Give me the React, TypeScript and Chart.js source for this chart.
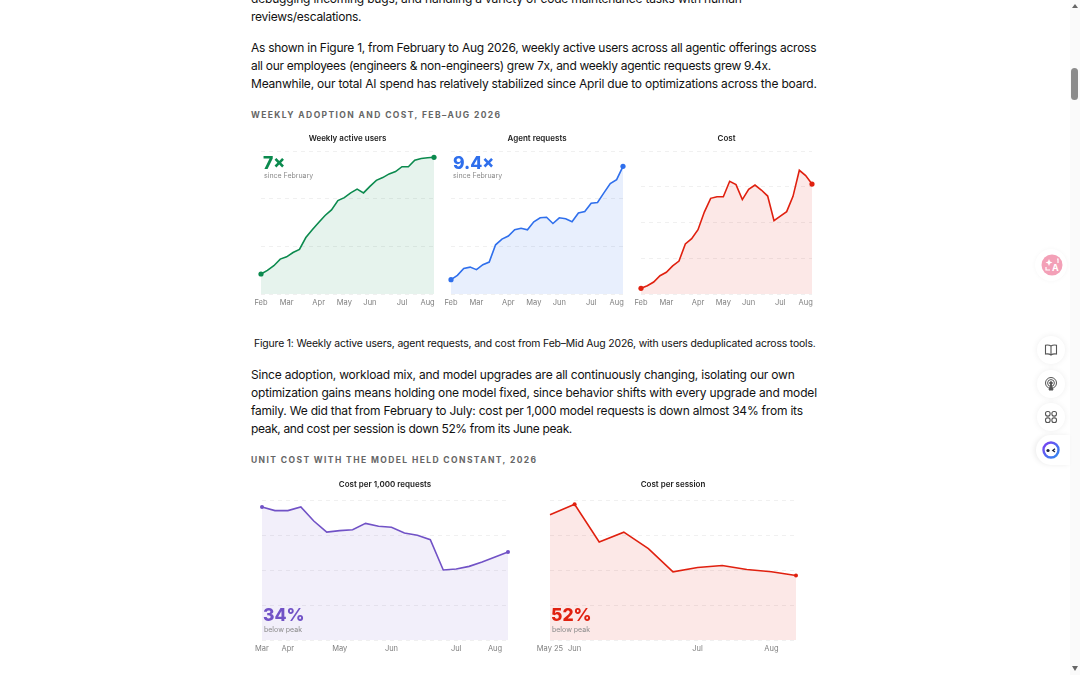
import React, { useEffect, useRef } from "react";
import { Chart, registerables } from "chart.js";

Chart.register(...registerables);

const weeklyLabels = ["Feb","","","","Mar","","","","","Apr","","","","May","","","","Jun","","","","","Jul","","","","Aug",""];
const requestCostLabels = ["Mar","","Apr","","","","May","","","","Jun","","","","","Jul","","","Aug",""];
const sessionCostLabels = ["May 25","Jun","","","","","Jul","","","Aug",""];

const weeklyActiveUsers = [14,16.5,19.8,24.4,26,29,31.2,39.5,44.9,50,54.9,58.8,65.3,67.4,70.7,73.3,70.7,75.3,79.5,81.4,84,85.6,89,89,93.5,94.7,95.3,95.6];
const agentRequests = [10,13,17.9,18.8,17,20.5,22.3,34.4,38.4,40.5,44.9,46,44.9,50.5,53.3,53.7,49.3,53.3,52.6,50.5,56.7,57.7,63.5,64,70.7,77.2,80,89.3];
const weeklyCost = [4,5.8,8.4,12.8,15.2,19.6,23,35,38.7,45,57.3,66.9,68,68,78.8,76.5,66,73.2,76.2,72.7,68.5,51.3,54.5,57.6,68.3,86.5,82.8,76.9];
const costPerThousand = [95,92.4,92.4,95,85,77.1,78.1,78.8,83.3,81.2,80.5,76.4,74.8,71.7,50,50.7,52.6,55.7,59.3,62.9];
const costPerSession = [89.5,96.9,70,77,65.3,48.7,51.8,53.2,50.4,48.7,46.1];

const topLines = [
  "debugging incoming bugs, and handling a variety of code maintenance tasks with human",
  "reviews/escalations.",
];
const topSpacing = [-0.175, -0.265];
const introLines = [
  "As shown in Figure 1, from February to Aug 2026, weekly active users across all agentic offerings across",
  "all our employees (engineers & non-engineers) grew 7x, and weekly agentic requests grew 9.4x.",
  "Meanwhile, our total AI spend has relatively stabilized since April due to optimizations across the board.",
];
const introSpacing = [-0.265, -0.285, -0.205];
const followLines = [
  "Since adoption, workload mix, and model upgrades are all continuously changing, isolating our own",
  "optimization gains means holding one model fixed, since behavior shifts with every upgrade and model",
  "family. We did that from February to July: cost per 1,000 model requests is down almost 34% from its",
  "peak, and cost per session is down 52% from its June peak.",
];
const followSpacing = [-0.205, -0.175, -0.215, -0.355];

const FONT = "Inter, sans-serif";

type ChartProps = {
  left: number; top: number; width: number; height: number;
  title: string; labels: string[]; values: number[]; marked: number[];
  divisions: number; color: string; fill: string; radius: number;
  titleTop: number; titleBottom: number;
};

function LineChart(p: ChartProps) {
  const ref = useRef<HTMLCanvasElement>(null);
  useEffect(() => {
    const chart = new Chart(ref.current!, {
      type: "line",
      data: {
        labels: p.labels,
        datasets: [{
          data: p.values,
          borderColor: p.color,
          backgroundColor: p.fill,
          fill: "origin",
          borderWidth: 1.6,
          tension: 0,
          clip: false,
          pointBackgroundColor: p.color,
          pointBorderWidth: 0,
          pointRadius: p.values.map((_, i) => (p.marked.includes(i) ? p.radius : 0)),
        }],
      },
      options: {
        animation: false,
        responsive: false,
        devicePixelRatio: 1,
        layout: { padding: { left: 20, right: 20, top: 0, bottom: 0 } },
        plugins: {
          legend: { display: false },
          tooltip: { enabled: false },
          title: {
            display: true,
            text: p.title,
            color: "#222",
            font: { family: FONT, size: 8, weight: 600, lineHeight: 1.2 },
            padding: { top: p.titleTop, bottom: p.titleBottom },
          },
        },
        scales: {
          x: {
            offset: false,
            grid: { display: false, drawTicks: false },
            border: { display: false },
            ticks: { autoSkip: false, maxRotation: 0, padding: 4.5, color: "#808080", font: { family: FONT, size: 7.5 } },
            afterFit: (s: any) => { s.height = 20; },
          },
          y: {
            min: 0,
            max: 100,
            grid: { color: "#f0f0f0", lineWidth: 1, drawTicks: false },
            border: { display: false, dash: [4, 4] },
            ticks: { display: false, count: p.divisions + 1 },
            afterFit: (s: any) => { s.width = 0; },
          },
        },
      },
    } as any);
    return () => chart.destroy();
  }, []);
  return (
    <canvas
      ref={ref}
      width={p.width}
      height={p.height}
      style={{ position: "absolute", left: p.left, top: p.top, width: p.width, height: p.height }}
    />
  );
}

function Text(props: { x: number; y: number; size: number; color?: string; weight?: number; spacing?: number; children: string; }) {
  return (
    <div style={{
      position: "absolute", left: props.x, top: props.y, transform: "translateY(-50%)",
      font: `${props.weight ?? 400} ${props.size}px/1.2 ${FONT}`,
      color: props.color ?? "#111", letterSpacing: props.spacing ?? 0, whiteSpace: "nowrap",
    }}>{props.children}</div>
  );
}

function Round(props: { y: number; children: React.ReactNode }) {
  return (
    <div style={{
      position: "absolute", left: 1037, top: props.y - 14, width: 28, height: 28, borderRadius: 14,
      background: "#fff", boxShadow: "0 0 6px rgba(0,0,0,.07)", display: "flex", alignItems: "center", justifyContent: "center",
    }}>{props.children}</div>
  );
}

export default function App() {
  const bodySize = 12;
  return (
    <div style={{ position: "fixed", left: 0, top: 0, width: 1080, height: 675, overflow: "hidden", background: "#fff" }}>
      {topLines.map((t, i) => <Text key={t} x={251} y={-1 + i * 18} size={bodySize} spacing={topSpacing[i]}>{t}</Text>)}
      {introLines.map((t, i) => <Text key={t} x={251} y={47.5 + i * 18} size={bodySize} spacing={introSpacing[i]}>{t}</Text>)}
      <Text x={251} y={115} size={8.5} weight={700} color="#666" spacing={1.4}>WEEKLY ADOPTION AND COST, FEB–AUG 2026</Text>

      <LineChart left={241} top={128} width={213} height={186} titleTop={6} titleBottom={7.4} title="Weekly active users" labels={weeklyLabels} values={weeklyActiveUsers} marked={[0, 27]} divisions={3} color="#0b8a4e" fill="rgba(11,138,78,0.10)" radius={2.6} />
      <LineChart left={431} top={128} width={212} height={186} titleTop={6} titleBottom={7.4} title="Agent requests" labels={weeklyLabels} values={agentRequests} marked={[0, 27]} divisions={3} color="#2f6fec" fill="rgba(47,111,236,0.11)" radius={2.6} />
      <LineChart left={621} top={128} width={211} height={186} titleTop={6} titleBottom={7.4} title="Cost" labels={weeklyLabels} values={weeklyCost} marked={[0, 27]} divisions={4} color="#e0200f" fill="rgba(224,32,15,0.10)" radius={2.6} />

      <Text x={263} y={161.5} size={17.5} weight={800} color="#0b8a4e">7×</Text>
      <Text x={264} y={176} size={7} color="#8a8a8a">since February</Text>
      <Text x={453} y={161.5} size={17.5} weight={800} color="#2f6fec">9.4×</Text>
      <Text x={453} y={176} size={7} color="#8a8a8a">since February</Text>

      <Text x={254} y={343.5} size={10.4} spacing={-0.155}>Figure 1: Weekly active users, agent requests, and cost from Feb–Mid Aug 2026, with users deduplicated across tools.</Text>

      {followLines.map((t, i) => <Text key={t} x={251} y={375 + i * 18} size={bodySize} spacing={followSpacing[i]}>{t}</Text>)}
      <Text x={251} y={460} size={8.5} weight={700} color="#666" spacing={1.4}>UNIT COST WITH THE MODEL HELD CONSTANT, 2026</Text>

      <LineChart left={242} top={475} width={286} height={185} titleTop={5} titleBottom={10.4} title="Cost per 1,000 requests" labels={requestCostLabels} values={costPerThousand} marked={[0, 19]} divisions={4} color="#7152c6" fill="rgba(113,82,198,0.09)" radius={2} />
      <LineChart left={530} top={475} width={286} height={185} titleTop={5} titleBottom={10.4} title="Cost per session" labels={sessionCostLabels} values={costPerSession} marked={[1, 10]} divisions={4} color="#e0200f" fill="rgba(224,32,15,0.10)" radius={2} />

      <Text x={263} y={613.5} size={17.5} weight={800} color="#7152c6">34%</Text>
      <Text x={264} y={630} size={7} color="#8a8a8a">below peak</Text>
      <Text x={551} y={613.5} size={17.5} weight={800} color="#e0200f">52%</Text>
      <Text x={552} y={629.5} size={7} color="#8a8a8a">below peak</Text>

      <div style={{ position: "absolute", left: 1070, top: 0, width: 10, height: 675, background: "#fafafa" }} />
      <div style={{ position: "absolute", left: 1071, top: 68, width: 7, height: 32, borderRadius: 4, background: "#8c8c8c" }} />
      <svg style={{ position: "absolute", left: 1070, top: 0 }} width={10} height={675}>
        <path d="M2 8 L5 4 L8 8 Z M2 666 L5 671 L8 666 Z" fill="#666" />
      </svg>

      <div style={{ position: "absolute", left: 1035, top: 249, width: 32, height: 32, borderRadius: 16, background: "#fff", boxShadow: "0 0 4px rgba(0,0,0,.04)" }} />
      <svg style={{ position: "absolute", left: 1041, top: 254 }} width={22} height={22}>
        <circle cx={11} cy={11} r={10.5} fill="#f3a0b7" />
        <path d="M8 5 L9 7.6 L11.5 8.5 L9 9.4 L8 12 L7 9.4 L4.5 8.5 L7 7.6 Z" fill="#fff" />
        <path d="M5 13 V16 H9 M16 5 H17 V9" stroke="#fff" fill="none" strokeWidth={1.2} />
        <text x={11} y={16.5} fontFamily={FONT} fontSize={9} fontWeight={700} fill="#fff">A</text>
      </svg>

      <Round y={350}>
        <svg width={14} height={14} viewBox="0 0 14 14" fill="none" stroke="#555" strokeWidth={1.1}>
          <path d="M7 3 C5.5 2 3 2 1.5 2.2 V11 C3 10.8 5.5 10.8 7 12 C8.5 10.8 11 10.8 12.5 11 V2.2 C11 2 8.5 2 7 3 Z M7 3 V12" />
        </svg>
      </Round>
      <Round y={384}>
        <svg width={14} height={14} viewBox="0 0 14 14" fill="none" stroke="#555" strokeWidth={1}>
          <circle cx={7} cy={6} r={5.5} /><circle cx={7} cy={6} r={3.4} /><circle cx={7} cy={6} r={1.3} fill="#555" />
          <path d="M5 13 H9 L7 7 Z" fill="#555" />
        </svg>
      </Round>
      <Round y={417}>
        <svg width={14} height={14} viewBox="0 0 14 14" fill="none" stroke="#555" strokeWidth={1.1}>
          <rect x={1.5} y={1.5} width={4.6} height={4.6} rx={2} /><rect x={7.9} y={1.5} width={4.6} height={4.6} rx={2} />
          <rect x={1.5} y={7.9} width={4.6} height={4.6} rx={2} /><rect x={7.9} y={7.9} width={4.6} height={4.6} rx={2} />
        </svg>
      </Round>

      <div style={{ position: "absolute", left: 1036, top: 435, width: 34, height: 30, borderRadius: "15px 0 0 15px", background: "#fff", boxShadow: "-2px 0 5px rgba(0,0,0,.07)" }} />
      <svg style={{ position: "absolute", left: 1042, top: 441 }} width={18} height={18}>
        <defs>
          <linearGradient id="ring" x1="0" y1="0" x2="1" y2="1"><stop offset="0" stopColor="#7b3ff2" /><stop offset="1" stopColor="#2f8bf0" /></linearGradient>
        </defs>
        <circle cx={9} cy={9} r={7.5} fill="#fff" stroke="url(#ring)" strokeWidth={2.4} />
        <circle cx={6} cy={9.5} r={1.6} fill="#1c2440" />
        <path d="M13 7.8 L10.8 9.5 L13 11" stroke="#1c2440" strokeWidth={1.3} fill="none" />
      </svg>
    </div>
  );
}
